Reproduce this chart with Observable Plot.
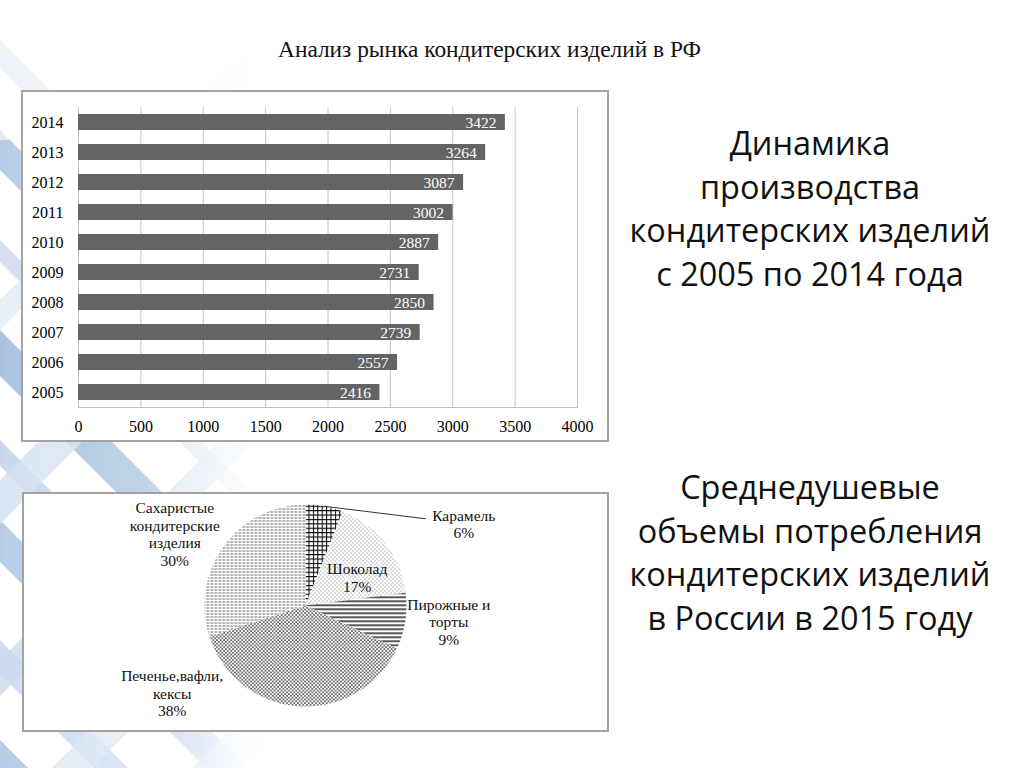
<!DOCTYPE html>
<html>
<head>
<meta charset="utf-8">
<script src="https://cdn.jsdelivr.net/npm/d3@7"></script>
<script src="https://cdn.jsdelivr.net/npm/@observablehq/plot@0.6"></script>
<style>
html, body { margin: 0; padding: 0; background: #fff; }
#page { position: relative; width: 1024px; height: 768px; overflow: hidden; background: #fff; }
.abs { position: absolute; }
.frame { position: absolute; border: 2px solid #a3a3a3; background: #fff; box-sizing: border-box; }
</style>
</head>
<body>
<div id="page">
  <svg id="bg" class="abs" width="1024" height="768" style="left:0;top:0"></svg>
  <div class="frame" style="left:21px;top:90px;width:588px;height:352px"></div>
  <div class="frame" style="left:22px;top:492px;width:587px;height:240px"></div>
  <div id="bar" class="abs" style="left:21px;top:90px"></div>
  <div id="pie" class="abs" style="left:22px;top:492px"></div>
  <svg id="txt" class="abs" width="1024" height="768" style="left:0;top:0;pointer-events:none"></svg>
  <svg width="0" height="0" style="position:absolute">
    <defs>
      <pattern id="pGrid" patternUnits="userSpaceOnUse" width="4.4" height="4.4">
        <rect width="4.4" height="4.4" fill="#fff"/>
        <path d="M0 0.5H4.4M0.5 0V4.4" stroke="#000" stroke-width="1"/>
      </pattern>
      <pattern id="pDots" patternUnits="userSpaceOnUse" width="4" height="4">
        <rect width="4" height="4" fill="#fff"/>
        <rect x="0" y="0" width="1" height="1" fill="#777"/>
        <rect x="2" y="2" width="1" height="1" fill="#777"/>
      </pattern>
      <pattern id="pHoriz" patternUnits="userSpaceOnUse" width="4" height="4">
        <rect width="4" height="4" fill="#fff"/>
        <rect x="0" y="0" width="4" height="1.4" fill="#111"/>
      </pattern>
      <pattern id="pCross" patternUnits="userSpaceOnUse" width="3.6" height="3.6">
        <rect width="3.6" height="3.6" fill="#fff"/>
        <path d="M0 0L3.6 3.6M3.6 0L0 3.6" stroke="#4a4a4a" stroke-width="0.7"/>
      </pattern>
      <pattern id="pWave" patternUnits="userSpaceOnUse" width="4" height="3">
        <rect width="4" height="3" fill="#fff"/>
        <path d="M0 1.5H2.8" stroke="#5e5e5e" stroke-width="1"/>
      </pattern>
    </defs>
  </svg>
</div>
<script>
// ---------------- DATA ----------------
const years = ["2005", "2006", "2007", "2008", "2009", "2010", "2011", "2012", "2013", "2014"];
const production = [2416, 2557, 2739, 2850, 2731, 2887, 3002, 3087, 3264, 3422];
const xTicks = [0, 500, 1000, 1500, 2000, 2500, 3000, 3500, 4000];

const pieCategories = ["Карамель", "Шоколад", "Пирожные и торты", "Печенье,вафли, кексы", "Сахаристые кондитерские изделия"];
const pieLabels = ["Карамель", "Шоколад", "Пирожные и\nторты", "Печенье,вафли,\nкексы", "Сахаристые\nкондитерские\nизделия"];
const pieShares = [6, 17, 9, 38, 30];

const titleText = "Анализ рынка кондитерских изделий в РФ";
const block1 = ["Динамика", "производства", "кондитерских изделий", "с 2005 по 2014 года"];
const block2 = ["Среднедушевые", "объемы потребления", "кондитерских изделий", "в России в 2015 году"];

// ---------------- STYLE / LAYOUT ----------------
const piePatterns = ["pGrid", "pDots", "pHoriz", "pCross", "pWave"];
// label placement in radius units relative to pie center
const pieLabelPlace = [[1.567, 0.809], [0.512, 0.28], [1.419, -0.161], [-1.32, -0.866], [-1.294, 0.71]];
const serif = "'Liberation Serif', 'Times New Roman', serif";
const sans = "'Open Sans', 'Noto Sans', sans-serif";

const ctx = document.createElement("canvas").getContext("2d");
function fitSize(text, family, target) {
  ctx.font = `100px ${family}`;
  return 100 * target / ctx.measureText(text).width;
}

// ---------------- BACKGROUND DECORATION ----------------
(function () {
  const bg = d3.select("#bg");
  const defs = bg.append("defs");
  const g = defs.append("linearGradient").attr("id", "fadeG").attr("gradientUnits", "userSpaceOnUse")
    .attr("x1", 0).attr("y1", 0).attr("x2", 260).attr("y2", 0);
  g.append("stop").attr("offset", 0).attr("stop-color", "#fff").attr("stop-opacity", 1);
  g.append("stop").attr("offset", 0.55).attr("stop-color", "#fff").attr("stop-opacity", 0.75);
  g.append("stop").attr("offset", 1).attr("stop-color", "#fff").attr("stop-opacity", 0);
  const m = defs.append("mask").attr("id", "fadeM");
  m.append("rect").attr("width", 1024).attr("height", 768).attr("fill", "url(#fadeG)");
  const layer = bg.append("g").attr("mask", "url(#fadeM)").attr("opacity", 0.75);
  const back = [[40, 28, "#c3d6ea"], [130, 40, "#9dbcdc"], [240, 22, "#c9d2ec"], [330, 46, "#8fb0d6"],
                [440, 26, "#b5cce6"], [520, 42, "#a0bddf"], [640, 34, "#bfd2ea"], [740, 40, "#9fbadb"]];
  const fwd = [[300, 30, "#d6e4f2"], [480, 44, "#c3d6ec"], [660, 36, "#b6cde7"], [820, 40, "#cddcef"], [960, 50, "#bcd0e9"]];
  back.forEach(([c, w, col]) => layer.append("polygon")
    .attr("points", `-60,${-60 + c} 420,${420 + c} 420,${420 + c + w} -60,${-60 + c + w}`).attr("fill", col));
  fwd.forEach(([c, w, col]) => layer.append("polygon")
    .attr("points", `-60,${60 + c} 420,${-420 + c} 420,${-420 + c + w} -60,${60 + c + w}`).attr("fill", col).attr("opacity", 0.8));
  bg.append("rect").attr("width", 300).attr("height", 140).attr("fill", "#fff").attr("opacity", 0.6);
})();

// ---------------- BAR CHART ----------------
const barData = years.map((y, i) => ({ year: y, value: production[i] }));
const bar = Plot.plot({
  width: 588, height: 352,
  marginLeft: 57, marginRight: 32, marginTop: 17, marginBottom: 35,
  style: { fontFamily: serif, fontSize: "16px", color: "#000", background: "transparent", overflow: "visible" },
  x: { domain: [0, 4000], ticks: xTicks, tickSize: 0, tickPadding: 13, tickFormat: d => String(d), label: null },
  y: { domain: [...years].reverse(), paddingInner: 0.467, paddingOuter: 0.233, tickSize: 0, tickPadding: 15, label: null },
  marks: [
    Plot.gridX(xTicks, { stroke: "#c4c4c4", strokeOpacity: 1 }),
    Plot.frame({ anchor: "bottom", stroke: "#c4c4c4" }),
    Plot.barX(barData, { x: "value", y: "year", fill: "#646464" }),
    Plot.text(barData, { x: "value", y: "year", text: d => String(d.value), textAnchor: "end", dx: -9, dy: 1, fill: "#fff", fontSize: 15.5 })
  ]
});
document.getElementById("bar").appendChild(bar);

// ---------------- PIE CHART ----------------
const R = 101, pieW = 587, pieH = 239;
const pcx = 305 - 22, pcy = 605 - 492;
const arcs = d3.pie().sort(null).value(d => d)(pieShares);
function slicePoints(a) {
  const pts = [{ x: 0, y: 0 }];
  const n = Math.max(2, Math.ceil((a.endAngle - a.startAngle) / 0.01));
  for (let k = 0; k <= n; k++) {
    const t = a.startAngle + (a.endAngle - a.startAngle) * k / n;
    pts.push({ x: Math.sin(t), y: Math.cos(t) });
  }
  pts.push({ x: 0, y: 0 });
  return pts;
}
const labelData = pieLabels.map((l, i) => ({
  text: l + "\n" + pieShares[i] + "%", x: pieLabelPlace[i][0], y: pieLabelPlace[i][1]
}));
const mid0 = (arcs[0].startAngle + arcs[0].endAngle) / 2;
const leader = [
  { x: Math.sin(mid0), y: Math.cos(mid0) },
  { x: pieLabelPlace[0][0] - 0.38, y: pieLabelPlace[0][1] + 0.05 }
];
const pie = Plot.plot({
  width: pieW, height: pieH, margin: 0,
  style: { fontFamily: serif, fontSize: "15.5px", color: "#000", background: "transparent", overflow: "visible" },
  x: { domain: [-pcx / R, (pieW - pcx) / R], axis: null },
  y: { domain: [-(pieH - pcy) / R, pcy / R], axis: null },
  marks: [
    ...arcs.map((a, i) => Plot.line(slicePoints(a), { x: "x", y: "y", fill: `url(#${piePatterns[i]})`, stroke: "none" })),
    Plot.line(leader, { x: "x", y: "y", stroke: "#333", strokeWidth: 1 }),
    Plot.text(labelData, { x: "x", y: "y", text: "text", lineHeight: 1.15, fill: "#111", fontSize: 15.5 })
  ]
});
document.getElementById("pie").appendChild(pie);

// ---------------- TEXTS ----------------
const txt = d3.select("#txt");
const tSize = fitSize(titleText, serif, 423);
txt.append("text").attr("x", 489.5).attr("y", 57).attr("text-anchor", "middle")
  .style("font-family", serif).style("font-size", tSize + "px").attr("fill", "#111").text(titleText);
const bSize = fitSize("кондитерских изделий", sans, 361);
const b1y = [155, 198.5, 242, 285.5];
const b2y = [499, 542.5, 586, 629.5];
block1.forEach((s, i) => txt.append("text").attr("x", 810).attr("y", b1y[i]).attr("text-anchor", "middle")
  .style("font-family", sans).style("font-size", bSize + "px").attr("fill", "#111").text(s));
block2.forEach((s, i) => txt.append("text").attr("x", 810).attr("y", b2y[i]).attr("text-anchor", "middle")
  .style("font-family", sans).style("font-size", bSize + "px").attr("fill", "#111").text(s));
</script>
</body>
</html>
